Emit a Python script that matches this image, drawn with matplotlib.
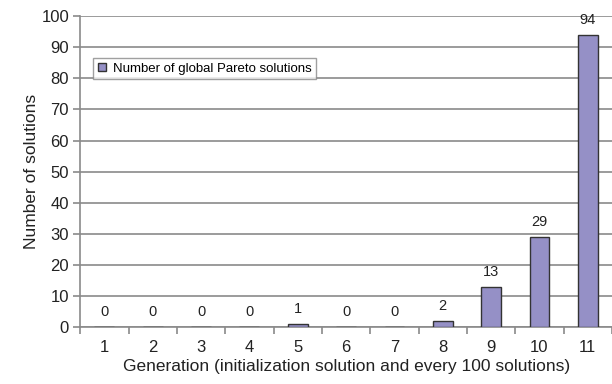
import numpy as np
import matplotlib.pyplot as plt

# data
generations = ['1', '2', '3', '4', '5', '6', '7', '8', '9', '10', '11']
n_solutions = [0, 0, 0, 0, 1, 0, 0, 2, 13, 29, 94]

plt.rcParams['font.family'] = ['Liberation Sans', 'DejaVu Sans']

fig = plt.figure(figsize=(6.12, 3.84), dpi=100)
ax = fig.add_axes([0.131, 0.148, 0.869, 0.810])

x = np.arange(1, len(generations) + 1)
bars = ax.bar(x, n_solutions, width=0.41, color='#9590c6', edgecolor='#333333',
              linewidth=1.0, label='Number of global Pareto solutions', zorder=3)

for xi, v in zip(x, n_solutions):
    ax.text(xi, v + 2.5, str(v), ha='center', va='bottom', fontsize=10.5, color='#222222')

ax.set_ylim(0, 100)
ax.set_xlim(0.5, 11.42)
ax.set_yticks(np.arange(0, 101, 10))
ax.yaxis.grid(True, color='#8a8a8a', linewidth=1.2, zorder=0)
ax.set_axisbelow(True)

ax.set_xticks(x)
ax.set_xticklabels(generations)
ax.set_xticks(np.arange(0.5, 12, 1), minor=True)
ax.tick_params(axis='x', which='major', length=0, pad=9, labelsize=12, colors='#222222')
ax.tick_params(axis='x', which='minor', length=5, width=1.2, color='#8a8a8a')
ax.tick_params(axis='y', length=5, width=1.2, color='#8a8a8a', labelsize=12,
               labelcolor='#222222', pad=3)

for side in ['top', 'right']:
    ax.spines[side].set_visible(False)
for side in ['left', 'bottom']:
    ax.spines[side].set_color('#8a8a8a')
    ax.spines[side].set_linewidth(1.2)

ax.set_xlabel('Generation (initialization solution and every 100 solutions)',
              fontsize=12.5, color='#222222', labelpad=3)
ax.set_ylabel('Number of solutions', fontsize=12.5, color='#222222', labelpad=2)

leg = ax.legend(loc='upper left', bbox_to_anchor=(0.025, 0.865), fontsize=9.5,
                frameon=True, fancybox=False, handlelength=0.6, handleheight=0.6,
                handletextpad=0.5, borderpad=0.35, borderaxespad=0)
leg.get_frame().set_edgecolor('#888888')
leg.get_frame().set_linewidth(1.0)

plt.savefig('out.png', dpi=100)
